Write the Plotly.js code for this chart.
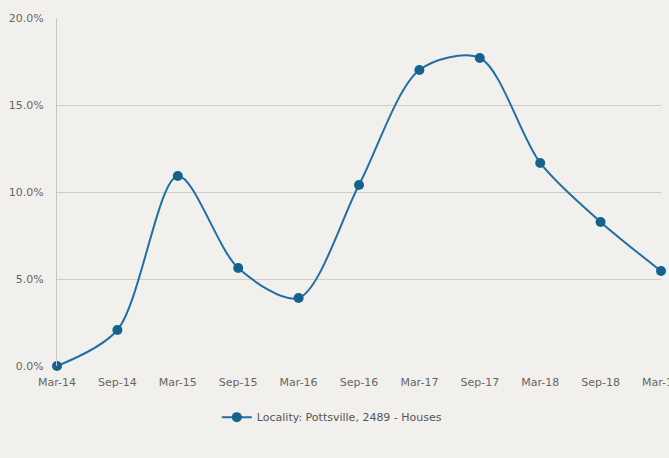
<!DOCTYPE html>
<html>
<head>
<meta charset="utf-8">
<script src="https://cdn.plot.ly/plotly-3.0.1.min.js"></script>
<style>html,body{margin:0;padding:0;background:#f2f0ec;}#chart{width:669px;height:458px;}</style>
</head>
<body>
<div id="chart"></div>
<script>
const categories = ["Mar-14","Sep-14","Mar-15","Sep-15","Mar-16","Sep-16","Mar-17","Sep-17","Mar-18","Sep-18","Mar-19"];
const growth = [0.0, 2.07, 10.92, 5.63, 3.91, 10.4, 17.01, 17.7, 11.67, 8.28, 5.46];
const seriesName = "Locality: Pottsville, 2489 - Houses";
const yTicks = [0, 5, 10, 15, 20];

const trace = {
  x: categories, y: growth, type: 'scatter', mode: 'lines+markers', name: seriesName,
  line: {color: '#1f6fa5', width: 2, shape: 'spline', smoothing: 0.85},
  marker: {color: '#16628f', size: 10},
  cliponaxis: false
};
const layout = {
  width: 669, height: 458,
  paper_bgcolor: '#f2f0ec', plot_bgcolor: '#f2f0ec',
  margin: {l: 57, r: 8, t: 18, b: 92},
  font: {family: 'DejaVu Sans, sans-serif', size: 11, color: '#666'},
  xaxis: {type: 'category', categoryorder: 'array', categoryarray: categories, range: [0, 10],
    showgrid: false, zeroline: false, showline: false, ticks: '', ticklabelstandoff: 8,
    tickfont: {size: 11, color: '#666'}, automargin: false},
  yaxis: {range: [0, 20], tickvals: yTicks, ticktext: yTicks.map(v => v.toFixed(1) + '%'),
    showgrid: true, gridcolor: '#cfcdc9', gridwidth: 1, zeroline: false,
    showline: true, linecolor: '#c8c6c2', linewidth: 1, ticks: '', ticklabelstandoff: 10,
    automargin: false, tickfont: {size: 11, color: '#666'}},
  showlegend: true,
  legend: {orientation: 'h', x: 0.455, xanchor: 'center', y: -0.147, yanchor: 'middle',
    itemwidth: 30, font: {size: 11, color: '#555'}, bgcolor: 'rgba(0,0,0,0)'}
};
Plotly.newPlot('chart', [trace], layout, {displayModeBar: false, staticPlot: true});
</script>
</body>
</html>
